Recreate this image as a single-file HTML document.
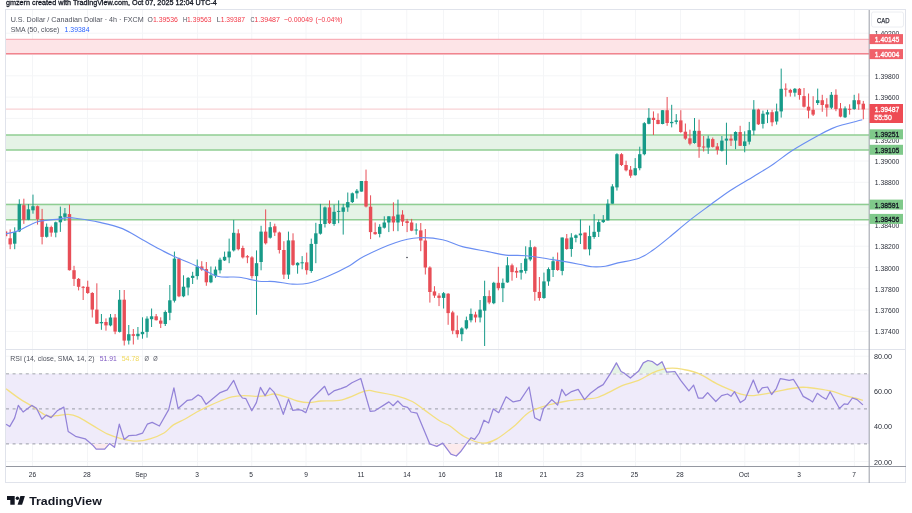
<!DOCTYPE html>
<html><head><meta charset="utf-8"><style>
html,body{margin:0;padding:0;background:#ffffff;width:912px;height:513px;overflow:hidden}
svg{display:block;font-family:"Liberation Sans", sans-serif;filter:blur(0.35px)}
</style></head><body>
<svg width="912" height="513" viewBox="0 0 912 513">
<defs><clipPath id="cp"><rect x="6" y="10" width="863" height="339"/></clipPath></defs>
<rect width="912" height="513" fill="#ffffff"/>
<rect x="5.5" y="9.5" width="900" height="473" fill="none" stroke="#e0e3eb" stroke-width="1"/><line x1="32.5" y1="10" x2="32.5" y2="466" stroke="#f4f5f7" stroke-width="1"/><line x1="87.5" y1="10" x2="87.5" y2="466" stroke="#f4f5f7" stroke-width="1"/><line x1="142.5" y1="10" x2="142.5" y2="466" stroke="#f4f5f7" stroke-width="1"/><line x1="197.5" y1="10" x2="197.5" y2="466" stroke="#f4f5f7" stroke-width="1"/><line x1="251.75" y1="10" x2="251.75" y2="466" stroke="#f4f5f7" stroke-width="1"/><line x1="306" y1="10" x2="306" y2="466" stroke="#f4f5f7" stroke-width="1"/><line x1="361" y1="10" x2="361" y2="466" stroke="#f4f5f7" stroke-width="1"/><line x1="406.75" y1="10" x2="406.75" y2="466" stroke="#f4f5f7" stroke-width="1"/><line x1="443.5" y1="10" x2="443.5" y2="466" stroke="#f4f5f7" stroke-width="1"/><line x1="498.5" y1="10" x2="498.5" y2="466" stroke="#f4f5f7" stroke-width="1"/><line x1="543.5" y1="10" x2="543.5" y2="466" stroke="#f4f5f7" stroke-width="1"/><line x1="581" y1="10" x2="581" y2="466" stroke="#f4f5f7" stroke-width="1"/><line x1="635.5" y1="10" x2="635.5" y2="466" stroke="#f4f5f7" stroke-width="1"/><line x1="680.5" y1="10" x2="680.5" y2="466" stroke="#f4f5f7" stroke-width="1"/><line x1="744.8" y1="10" x2="744.8" y2="466" stroke="#f4f5f7" stroke-width="1"/><line x1="799.3" y1="10" x2="799.3" y2="466" stroke="#f4f5f7" stroke-width="1"/><line x1="854.4" y1="10" x2="854.4" y2="466" stroke="#f4f5f7" stroke-width="1"/><line x1="6" y1="33.2" x2="869" y2="33.2" stroke="#f4f5f7" stroke-width="1"/><line x1="6" y1="54.5" x2="869" y2="54.5" stroke="#f4f5f7" stroke-width="1"/><line x1="6" y1="75.8" x2="869" y2="75.8" stroke="#f4f5f7" stroke-width="1"/><line x1="6" y1="97.1" x2="869" y2="97.1" stroke="#f4f5f7" stroke-width="1"/><line x1="6" y1="118.4" x2="869" y2="118.4" stroke="#f4f5f7" stroke-width="1"/><line x1="6" y1="139.7" x2="869" y2="139.7" stroke="#f4f5f7" stroke-width="1"/><line x1="6" y1="161.0" x2="869" y2="161.0" stroke="#f4f5f7" stroke-width="1"/><line x1="6" y1="182.3" x2="869" y2="182.3" stroke="#f4f5f7" stroke-width="1"/><line x1="6" y1="203.6" x2="869" y2="203.6" stroke="#f4f5f7" stroke-width="1"/><line x1="6" y1="224.9" x2="869" y2="224.9" stroke="#f4f5f7" stroke-width="1"/><line x1="6" y1="246.2" x2="869" y2="246.2" stroke="#f4f5f7" stroke-width="1"/><line x1="6" y1="267.5" x2="869" y2="267.5" stroke="#f4f5f7" stroke-width="1"/><line x1="6" y1="288.8" x2="869" y2="288.8" stroke="#f4f5f7" stroke-width="1"/><line x1="6" y1="310.1" x2="869" y2="310.1" stroke="#f4f5f7" stroke-width="1"/><line x1="6" y1="331.4" x2="869" y2="331.4" stroke="#f4f5f7" stroke-width="1"/><line x1="6" y1="356.2" x2="869" y2="356.2" stroke="#f4f5f7" stroke-width="1"/><line x1="6" y1="391.3" x2="869" y2="391.3" stroke="#f4f5f7" stroke-width="1"/><line x1="6" y1="426.4" x2="869" y2="426.4" stroke="#f4f5f7" stroke-width="1"/><line x1="6" y1="461.5" x2="869" y2="461.5" stroke="#f4f5f7" stroke-width="1"/><rect x="6" y="39.3" width="863" height="14.5" fill="#fde4e7"/><line x1="6" y1="39.3" x2="869" y2="39.3" stroke="#f7a1aa" stroke-width="1"/><line x1="6" y1="53.8" x2="869" y2="53.8" stroke="#f2848e" stroke-width="1.5"/><rect x="6" y="135.0" width="863" height="14.9" fill="#e5f3e6"/><line x1="6" y1="135.0" x2="869" y2="135.0" stroke="#8fce92" stroke-width="1.5"/><line x1="6" y1="149.9" x2="869" y2="149.9" stroke="#8fce92" stroke-width="1.5"/><rect x="6" y="204.6" width="863" height="15.1" fill="#e5f3e6"/><line x1="6" y1="204.6" x2="869" y2="204.6" stroke="#8fce92" stroke-width="1.5"/><line x1="6" y1="219.7" x2="869" y2="219.7" stroke="#8fce92" stroke-width="1.5"/><line x1="6" y1="109.1" x2="869" y2="109.1" stroke="#f7c6ca" stroke-width="1"/><g clip-path="url(#cp)"><line x1="5.60" y1="229.4" x2="5.60" y2="239.0" stroke="#e84e57" stroke-width="1"/><rect x="3.90" y="231.4" width="3.4" height="4.8" fill="#e84e57"/><line x1="10.16" y1="229.4" x2="10.16" y2="249.2" stroke="#e84e57" stroke-width="1"/><rect x="8.46" y="238.3" width="3.4" height="6.1" fill="#e84e57"/><line x1="14.72" y1="227.3" x2="14.72" y2="249.2" stroke="#179a88" stroke-width="1"/><rect x="13.02" y="232.1" width="3.4" height="11.6" fill="#179a88"/><line x1="19.29" y1="199.3" x2="19.29" y2="232.1" stroke="#179a88" stroke-width="1"/><rect x="17.59" y="204.1" width="3.4" height="27.3" fill="#179a88"/><line x1="23.85" y1="198.7" x2="23.85" y2="223.9" stroke="#e84e57" stroke-width="1"/><rect x="22.15" y="205.2" width="3.4" height="14.6" fill="#e84e57"/><line x1="28.41" y1="204.1" x2="28.41" y2="220.2" stroke="#179a88" stroke-width="1"/><rect x="26.71" y="209.3" width="3.4" height="10.5" fill="#179a88"/><line x1="32.97" y1="194.6" x2="32.97" y2="213.7" stroke="#179a88" stroke-width="1"/><rect x="31.27" y="206.2" width="3.4" height="4.1" fill="#179a88"/><line x1="37.54" y1="205.5" x2="37.54" y2="224.6" stroke="#e84e57" stroke-width="1"/><rect x="35.84" y="206.2" width="3.4" height="13.0" fill="#e84e57"/><line x1="42.10" y1="208.9" x2="42.10" y2="244.4" stroke="#e84e57" stroke-width="1"/><rect x="40.40" y="219.2" width="3.4" height="17.7" fill="#e84e57"/><line x1="46.66" y1="223.5" x2="46.66" y2="237.6" stroke="#179a88" stroke-width="1"/><rect x="44.96" y="226.8" width="3.4" height="10.0" fill="#179a88"/><line x1="51.22" y1="225.7" x2="51.22" y2="236.7" stroke="#e84e57" stroke-width="1"/><rect x="49.52" y="227.1" width="3.4" height="5.5" fill="#e84e57"/><line x1="55.79" y1="221.6" x2="55.79" y2="237.3" stroke="#179a88" stroke-width="1"/><rect x="54.09" y="222.3" width="3.4" height="10.3" fill="#179a88"/><line x1="60.35" y1="206.6" x2="60.35" y2="231.9" stroke="#179a88" stroke-width="1"/><rect x="58.65" y="216.2" width="3.4" height="6.1" fill="#179a88"/><line x1="64.91" y1="208.0" x2="64.91" y2="221.0" stroke="#179a88" stroke-width="1"/><rect x="63.21" y="213.4" width="3.4" height="3.5" fill="#179a88"/><line x1="69.47" y1="204.6" x2="69.47" y2="270.5" stroke="#e84e57" stroke-width="1"/><rect x="67.77" y="214.1" width="3.4" height="56.1" fill="#e84e57"/><line x1="74.03" y1="265.8" x2="74.03" y2="286.0" stroke="#e84e57" stroke-width="1"/><rect x="72.33" y="270.2" width="3.4" height="8.7" fill="#e84e57"/><line x1="78.60" y1="278.0" x2="78.60" y2="290.4" stroke="#e84e57" stroke-width="1"/><rect x="76.90" y="278.9" width="3.4" height="7.9" fill="#e84e57"/><line x1="83.16" y1="286.0" x2="83.16" y2="300.0" stroke="#e84e57" stroke-width="1"/><rect x="81.46" y="286.8" width="3.4" height="1.0" fill="#e84e57"/><line x1="87.72" y1="280.7" x2="87.72" y2="293.9" stroke="#e84e57" stroke-width="1"/><rect x="86.02" y="286.8" width="3.4" height="6.2" fill="#e84e57"/><line x1="92.28" y1="292.1" x2="92.28" y2="317.5" stroke="#e84e57" stroke-width="1"/><rect x="90.58" y="293.0" width="3.4" height="16.6" fill="#e84e57"/><line x1="96.85" y1="283.3" x2="96.85" y2="324.0" stroke="#e84e57" stroke-width="1"/><rect x="95.15" y="309.6" width="3.4" height="14.1" fill="#e84e57"/><line x1="101.41" y1="314.0" x2="101.41" y2="329.8" stroke="#179a88" stroke-width="1"/><rect x="99.71" y="322.0" width="3.4" height="1.3" fill="#179a88"/><line x1="105.97" y1="318.4" x2="105.97" y2="330.7" stroke="#e84e57" stroke-width="1"/><rect x="104.27" y="322.0" width="3.4" height="3.4" fill="#e84e57"/><line x1="110.53" y1="314.0" x2="110.53" y2="326.3" stroke="#179a88" stroke-width="1"/><rect x="108.83" y="317.5" width="3.4" height="7.9" fill="#179a88"/><line x1="115.10" y1="314.0" x2="115.10" y2="334.2" stroke="#e84e57" stroke-width="1"/><rect x="113.40" y="317.5" width="3.4" height="14.1" fill="#e84e57"/><line x1="119.66" y1="290.0" x2="119.66" y2="332.5" stroke="#179a88" stroke-width="1"/><rect x="117.96" y="299.7" width="3.4" height="32.2" fill="#179a88"/><line x1="124.22" y1="290.0" x2="124.22" y2="345.5" stroke="#e84e57" stroke-width="1"/><rect x="122.52" y="299.7" width="3.4" height="40.9" fill="#e84e57"/><line x1="128.78" y1="325.0" x2="128.78" y2="344.5" stroke="#179a88" stroke-width="1"/><rect x="127.08" y="334.2" width="3.4" height="6.4" fill="#179a88"/><line x1="133.34" y1="329.0" x2="133.34" y2="344.5" stroke="#e84e57" stroke-width="1"/><rect x="131.64" y="334.2" width="3.4" height="1.6" fill="#e84e57"/><line x1="137.91" y1="327.0" x2="137.91" y2="339.7" stroke="#179a88" stroke-width="1"/><rect x="136.21" y="333.8" width="3.4" height="2.4" fill="#179a88"/><line x1="142.47" y1="317.3" x2="142.47" y2="338.7" stroke="#179a88" stroke-width="1"/><rect x="140.77" y="331.9" width="3.4" height="2.3" fill="#179a88"/><line x1="147.03" y1="316.3" x2="147.03" y2="337.7" stroke="#179a88" stroke-width="1"/><rect x="145.33" y="318.6" width="3.4" height="13.3" fill="#179a88"/><line x1="151.59" y1="308.5" x2="151.59" y2="327.0" stroke="#179a88" stroke-width="1"/><rect x="149.89" y="316.3" width="3.4" height="2.9" fill="#179a88"/><line x1="156.16" y1="314.0" x2="156.16" y2="320.5" stroke="#e84e57" stroke-width="1"/><rect x="154.46" y="316.3" width="3.4" height="3.9" fill="#e84e57"/><line x1="160.72" y1="317.3" x2="160.72" y2="328.0" stroke="#e84e57" stroke-width="1"/><rect x="159.02" y="320.6" width="3.4" height="3.1" fill="#e84e57"/><line x1="165.28" y1="310.4" x2="165.28" y2="326.0" stroke="#179a88" stroke-width="1"/><rect x="163.58" y="312.0" width="3.4" height="12.0" fill="#179a88"/><line x1="169.84" y1="285.0" x2="169.84" y2="320.2" stroke="#179a88" stroke-width="1"/><rect x="168.14" y="300.3" width="3.4" height="12.5" fill="#179a88"/><line x1="174.41" y1="251.6" x2="174.41" y2="302.5" stroke="#179a88" stroke-width="1"/><rect x="172.71" y="258.6" width="3.4" height="42.1" fill="#179a88"/><line x1="178.97" y1="257.7" x2="178.97" y2="297.2" stroke="#e84e57" stroke-width="1"/><rect x="177.27" y="258.6" width="3.4" height="37.7" fill="#e84e57"/><line x1="183.53" y1="275.3" x2="183.53" y2="297.2" stroke="#179a88" stroke-width="1"/><rect x="181.83" y="286.7" width="3.4" height="9.6" fill="#179a88"/><line x1="188.09" y1="277.0" x2="188.09" y2="295.4" stroke="#179a88" stroke-width="1"/><rect x="186.39" y="277.9" width="3.4" height="9.6" fill="#179a88"/><line x1="192.65" y1="271.8" x2="192.65" y2="284.0" stroke="#179a88" stroke-width="1"/><rect x="190.95" y="275.8" width="3.4" height="2.1" fill="#179a88"/><line x1="197.22" y1="259.5" x2="197.22" y2="279.6" stroke="#179a88" stroke-width="1"/><rect x="195.52" y="266.5" width="3.4" height="9.6" fill="#179a88"/><line x1="201.78" y1="261.2" x2="201.78" y2="270.9" stroke="#e84e57" stroke-width="1"/><rect x="200.08" y="266.5" width="3.4" height="3.0" fill="#e84e57"/><line x1="206.34" y1="262.0" x2="206.34" y2="285.8" stroke="#e84e57" stroke-width="1"/><rect x="204.64" y="269.1" width="3.4" height="13.2" fill="#e84e57"/><line x1="210.90" y1="266.5" x2="210.90" y2="283.2" stroke="#179a88" stroke-width="1"/><rect x="209.20" y="275.3" width="3.4" height="7.0" fill="#179a88"/><line x1="215.47" y1="266.5" x2="215.47" y2="277.9" stroke="#179a88" stroke-width="1"/><rect x="213.77" y="269.6" width="3.4" height="6.5" fill="#179a88"/><line x1="220.03" y1="257.7" x2="220.03" y2="273.5" stroke="#179a88" stroke-width="1"/><rect x="218.33" y="259.7" width="3.4" height="10.6" fill="#179a88"/><line x1="224.59" y1="251.6" x2="224.59" y2="261.0" stroke="#179a88" stroke-width="1"/><rect x="222.89" y="256.8" width="3.4" height="3.6" fill="#179a88"/><line x1="229.15" y1="238.6" x2="229.15" y2="263.2" stroke="#179a88" stroke-width="1"/><rect x="227.45" y="251.5" width="3.4" height="5.9" fill="#179a88"/><line x1="233.71" y1="219.9" x2="233.71" y2="251.5" stroke="#179a88" stroke-width="1"/><rect x="232.01" y="232.8" width="3.4" height="17.6" fill="#179a88"/><line x1="238.28" y1="229.3" x2="238.28" y2="250.4" stroke="#e84e57" stroke-width="1"/><rect x="236.58" y="233.3" width="3.4" height="15.9" fill="#e84e57"/><line x1="242.84" y1="245.7" x2="242.84" y2="258.5" stroke="#e84e57" stroke-width="1"/><rect x="241.14" y="248.0" width="3.4" height="9.4" fill="#e84e57"/><line x1="247.40" y1="255.0" x2="247.40" y2="263.2" stroke="#e84e57" stroke-width="1"/><rect x="245.70" y="256.2" width="3.4" height="1.2" fill="#e84e57"/><line x1="251.96" y1="256.2" x2="251.96" y2="278.5" stroke="#e84e57" stroke-width="1"/><rect x="250.26" y="257.4" width="3.4" height="18.7" fill="#e84e57"/><line x1="256.53" y1="250.4" x2="256.53" y2="314.8" stroke="#179a88" stroke-width="1"/><rect x="254.83" y="263.2" width="3.4" height="12.9" fill="#179a88"/><line x1="261.09" y1="225.8" x2="261.09" y2="270.3" stroke="#179a88" stroke-width="1"/><rect x="259.39" y="231.6" width="3.4" height="30.4" fill="#179a88"/><line x1="265.65" y1="209.4" x2="265.65" y2="244.5" stroke="#e84e57" stroke-width="1"/><rect x="263.95" y="231.6" width="3.4" height="11.7" fill="#e84e57"/><line x1="270.21" y1="221.9" x2="270.21" y2="238.6" stroke="#179a88" stroke-width="1"/><rect x="268.51" y="227.2" width="3.4" height="10.5" fill="#179a88"/><line x1="274.78" y1="223.7" x2="274.78" y2="236.0" stroke="#e84e57" stroke-width="1"/><rect x="273.08" y="226.3" width="3.4" height="6.2" fill="#e84e57"/><line x1="279.34" y1="231.6" x2="279.34" y2="253.5" stroke="#e84e57" stroke-width="1"/><rect x="277.64" y="232.5" width="3.4" height="17.5" fill="#e84e57"/><line x1="283.90" y1="241.2" x2="283.90" y2="279.0" stroke="#e84e57" stroke-width="1"/><rect x="282.20" y="250.0" width="3.4" height="24.6" fill="#e84e57"/><line x1="288.46" y1="231.6" x2="288.46" y2="279.0" stroke="#179a88" stroke-width="1"/><rect x="286.76" y="240.4" width="3.4" height="34.2" fill="#179a88"/><line x1="293.02" y1="233.3" x2="293.02" y2="265.8" stroke="#e84e57" stroke-width="1"/><rect x="291.32" y="240.4" width="3.4" height="24.5" fill="#e84e57"/><line x1="297.59" y1="262.3" x2="297.59" y2="273.7" stroke="#179a88" stroke-width="1"/><rect x="295.89" y="262.8" width="3.4" height="2.5" fill="#179a88"/><line x1="302.15" y1="256.1" x2="302.15" y2="269.3" stroke="#179a88" stroke-width="1"/><rect x="300.45" y="262.3" width="3.4" height="1.0" fill="#179a88"/><line x1="306.71" y1="252.6" x2="306.71" y2="274.6" stroke="#e84e57" stroke-width="1"/><rect x="305.01" y="262.3" width="3.4" height="7.9" fill="#e84e57"/><line x1="311.27" y1="238.6" x2="311.27" y2="272.8" stroke="#179a88" stroke-width="1"/><rect x="309.57" y="243.9" width="3.4" height="27.1" fill="#179a88"/><line x1="315.84" y1="222.8" x2="315.84" y2="263.2" stroke="#179a88" stroke-width="1"/><rect x="314.14" y="233.3" width="3.4" height="10.6" fill="#179a88"/><line x1="320.40" y1="203.9" x2="320.40" y2="234.6" stroke="#179a88" stroke-width="1"/><rect x="318.70" y="224.0" width="3.4" height="9.7" fill="#179a88"/><line x1="324.96" y1="206.5" x2="324.96" y2="227.5" stroke="#179a88" stroke-width="1"/><rect x="323.26" y="207.4" width="3.4" height="16.6" fill="#179a88"/><line x1="329.52" y1="200.4" x2="329.52" y2="224.0" stroke="#e84e57" stroke-width="1"/><rect x="327.82" y="207.4" width="3.4" height="15.8" fill="#e84e57"/><line x1="334.09" y1="204.7" x2="334.09" y2="225.8" stroke="#179a88" stroke-width="1"/><rect x="332.39" y="211.8" width="3.4" height="12.2" fill="#179a88"/><line x1="338.65" y1="200.4" x2="338.65" y2="223.2" stroke="#179a88" stroke-width="1"/><rect x="336.95" y="210.9" width="3.4" height="1.0" fill="#179a88"/><line x1="343.21" y1="203.9" x2="343.21" y2="234.6" stroke="#179a88" stroke-width="1"/><rect x="341.51" y="207.4" width="3.4" height="4.4" fill="#179a88"/><line x1="347.77" y1="192.5" x2="347.77" y2="211.8" stroke="#179a88" stroke-width="1"/><rect x="346.07" y="202.1" width="3.4" height="5.3" fill="#179a88"/><line x1="352.33" y1="192.5" x2="352.33" y2="203.0" stroke="#179a88" stroke-width="1"/><rect x="350.63" y="193.3" width="3.4" height="8.8" fill="#179a88"/><line x1="356.90" y1="189.0" x2="356.90" y2="198.6" stroke="#179a88" stroke-width="1"/><rect x="355.20" y="190.7" width="3.4" height="2.6" fill="#179a88"/><line x1="361.46" y1="181.0" x2="361.46" y2="191.6" stroke="#179a88" stroke-width="1"/><rect x="359.76" y="181.0" width="3.4" height="10.6" fill="#179a88"/><line x1="366.02" y1="169.6" x2="366.02" y2="207.4" stroke="#e84e57" stroke-width="1"/><rect x="364.32" y="181.0" width="3.4" height="25.5" fill="#e84e57"/><line x1="370.58" y1="195.3" x2="370.58" y2="239.1" stroke="#e84e57" stroke-width="1"/><rect x="368.88" y="206.7" width="3.4" height="25.4" fill="#e84e57"/><line x1="375.15" y1="222.5" x2="375.15" y2="234.7" stroke="#e84e57" stroke-width="1"/><rect x="373.45" y="232.1" width="3.4" height="2.1" fill="#e84e57"/><line x1="379.71" y1="224.2" x2="379.71" y2="237.4" stroke="#179a88" stroke-width="1"/><rect x="378.01" y="226.8" width="3.4" height="7.1" fill="#179a88"/><line x1="384.27" y1="216.3" x2="384.27" y2="228.6" stroke="#179a88" stroke-width="1"/><rect x="382.57" y="222.5" width="3.4" height="5.2" fill="#179a88"/><line x1="388.83" y1="216.3" x2="388.83" y2="232.1" stroke="#179a88" stroke-width="1"/><rect x="387.13" y="216.3" width="3.4" height="6.2" fill="#179a88"/><line x1="393.40" y1="202.3" x2="393.40" y2="231.2" stroke="#e84e57" stroke-width="1"/><rect x="391.70" y="216.3" width="3.4" height="6.2" fill="#e84e57"/><line x1="397.96" y1="199.6" x2="397.96" y2="231.2" stroke="#179a88" stroke-width="1"/><rect x="396.26" y="214.6" width="3.4" height="7.9" fill="#179a88"/><line x1="402.52" y1="210.2" x2="402.52" y2="226.0" stroke="#e84e57" stroke-width="1"/><rect x="400.82" y="214.6" width="3.4" height="7.0" fill="#e84e57"/><line x1="407.08" y1="218.9" x2="407.08" y2="232.1" stroke="#e84e57" stroke-width="1"/><rect x="405.38" y="221.2" width="3.4" height="1.8" fill="#e84e57"/><line x1="411.64" y1="218.9" x2="411.64" y2="231.2" stroke="#e84e57" stroke-width="1"/><rect x="409.94" y="222.5" width="3.4" height="8.2" fill="#e84e57"/><line x1="416.21" y1="223.3" x2="416.21" y2="234.7" stroke="#179a88" stroke-width="1"/><rect x="414.51" y="229.5" width="3.4" height="1.0" fill="#179a88"/><line x1="420.77" y1="223.0" x2="420.77" y2="251.2" stroke="#e84e57" stroke-width="1"/><rect x="419.07" y="230.4" width="3.4" height="10.1" fill="#e84e57"/><line x1="425.33" y1="229.0" x2="425.33" y2="274.5" stroke="#e84e57" stroke-width="1"/><rect x="423.63" y="240.5" width="3.4" height="27.0" fill="#e84e57"/><line x1="429.89" y1="266.3" x2="429.89" y2="302.6" stroke="#e84e57" stroke-width="1"/><rect x="428.19" y="267.5" width="3.4" height="24.5" fill="#e84e57"/><line x1="434.46" y1="286.2" x2="434.46" y2="297.9" stroke="#e84e57" stroke-width="1"/><rect x="432.76" y="291.4" width="3.4" height="4.2" fill="#e84e57"/><line x1="439.02" y1="293.2" x2="439.02" y2="306.1" stroke="#e84e57" stroke-width="1"/><rect x="437.32" y="295.6" width="3.4" height="2.3" fill="#e84e57"/><line x1="443.58" y1="292.0" x2="443.58" y2="308.5" stroke="#179a88" stroke-width="1"/><rect x="441.88" y="293.2" width="3.4" height="4.7" fill="#179a88"/><line x1="448.14" y1="293.2" x2="448.14" y2="324.8" stroke="#e84e57" stroke-width="1"/><rect x="446.44" y="293.7" width="3.4" height="19.4" fill="#e84e57"/><line x1="452.71" y1="310.8" x2="452.71" y2="334.2" stroke="#e84e57" stroke-width="1"/><rect x="451.01" y="312.4" width="3.4" height="18.3" fill="#e84e57"/><line x1="457.27" y1="315.5" x2="457.27" y2="337.7" stroke="#e84e57" stroke-width="1"/><rect x="455.57" y="330.2" width="3.4" height="4.0" fill="#e84e57"/><line x1="461.83" y1="327.2" x2="461.83" y2="341.2" stroke="#179a88" stroke-width="1"/><rect x="460.13" y="328.4" width="3.4" height="5.8" fill="#179a88"/><line x1="466.39" y1="316.6" x2="466.39" y2="329.5" stroke="#179a88" stroke-width="1"/><rect x="464.69" y="320.2" width="3.4" height="8.2" fill="#179a88"/><line x1="470.95" y1="308.5" x2="470.95" y2="322.4" stroke="#179a88" stroke-width="1"/><rect x="469.25" y="313.9" width="3.4" height="6.4" fill="#179a88"/><line x1="475.52" y1="311.7" x2="475.52" y2="322.4" stroke="#e84e57" stroke-width="1"/><rect x="473.82" y="314.5" width="3.4" height="3.0" fill="#e84e57"/><line x1="480.08" y1="300.0" x2="480.08" y2="322.4" stroke="#179a88" stroke-width="1"/><rect x="478.38" y="309.6" width="3.4" height="7.9" fill="#179a88"/><line x1="484.64" y1="280.7" x2="484.64" y2="346.0" stroke="#179a88" stroke-width="1"/><rect x="482.94" y="296.1" width="3.4" height="14.6" fill="#179a88"/><line x1="489.20" y1="290.3" x2="489.20" y2="304.2" stroke="#e84e57" stroke-width="1"/><rect x="487.50" y="296.1" width="3.4" height="6.4" fill="#e84e57"/><line x1="493.77" y1="281.8" x2="493.77" y2="304.2" stroke="#179a88" stroke-width="1"/><rect x="492.07" y="282.8" width="3.4" height="20.4" fill="#179a88"/><line x1="498.33" y1="266.8" x2="498.33" y2="290.3" stroke="#e84e57" stroke-width="1"/><rect x="496.63" y="282.8" width="3.4" height="5.4" fill="#e84e57"/><line x1="502.89" y1="278.5" x2="502.89" y2="302.1" stroke="#179a88" stroke-width="1"/><rect x="501.19" y="282.8" width="3.4" height="5.4" fill="#179a88"/><line x1="507.45" y1="257.1" x2="507.45" y2="282.8" stroke="#179a88" stroke-width="1"/><rect x="505.75" y="265.3" width="3.4" height="17.1" fill="#179a88"/><line x1="512.02" y1="263.6" x2="512.02" y2="280.7" stroke="#e84e57" stroke-width="1"/><rect x="510.32" y="265.3" width="3.4" height="6.8" fill="#e84e57"/><line x1="516.58" y1="267.4" x2="516.58" y2="277.9" stroke="#e84e57" stroke-width="1"/><rect x="514.88" y="270.9" width="3.4" height="1.7" fill="#e84e57"/><line x1="521.14" y1="263.0" x2="521.14" y2="279.6" stroke="#179a88" stroke-width="1"/><rect x="519.44" y="270.0" width="3.4" height="2.6" fill="#179a88"/><line x1="525.70" y1="246.3" x2="525.70" y2="273.5" stroke="#179a88" stroke-width="1"/><rect x="524.00" y="258.6" width="3.4" height="12.3" fill="#179a88"/><line x1="530.26" y1="240.2" x2="530.26" y2="261.2" stroke="#179a88" stroke-width="1"/><rect x="528.56" y="247.2" width="3.4" height="12.3" fill="#179a88"/><line x1="534.83" y1="246.3" x2="534.83" y2="300.7" stroke="#e84e57" stroke-width="1"/><rect x="533.13" y="247.2" width="3.4" height="44.7" fill="#e84e57"/><line x1="539.39" y1="277.0" x2="539.39" y2="300.7" stroke="#e84e57" stroke-width="1"/><rect x="537.69" y="291.9" width="3.4" height="6.1" fill="#e84e57"/><line x1="543.95" y1="272.6" x2="543.95" y2="298.9" stroke="#179a88" stroke-width="1"/><rect x="542.25" y="281.4" width="3.4" height="16.6" fill="#179a88"/><line x1="548.51" y1="267.4" x2="548.51" y2="285.8" stroke="#179a88" stroke-width="1"/><rect x="546.81" y="269.1" width="3.4" height="12.3" fill="#179a88"/><line x1="553.08" y1="256.8" x2="553.08" y2="277.0" stroke="#179a88" stroke-width="1"/><rect x="551.38" y="261.2" width="3.4" height="8.8" fill="#179a88"/><line x1="557.64" y1="252.5" x2="557.64" y2="270.9" stroke="#e84e57" stroke-width="1"/><rect x="555.94" y="261.2" width="3.4" height="8.8" fill="#e84e57"/><line x1="562.20" y1="237.5" x2="562.20" y2="275.3" stroke="#179a88" stroke-width="1"/><rect x="560.50" y="237.5" width="3.4" height="33.4" fill="#179a88"/><line x1="566.76" y1="234.0" x2="566.76" y2="249.8" stroke="#e84e57" stroke-width="1"/><rect x="565.06" y="238.4" width="3.4" height="10.6" fill="#e84e57"/><line x1="571.33" y1="233.2" x2="571.33" y2="256.8" stroke="#179a88" stroke-width="1"/><rect x="569.63" y="237.5" width="3.4" height="11.5" fill="#179a88"/><line x1="575.89" y1="234.4" x2="575.89" y2="242.3" stroke="#179a88" stroke-width="1"/><rect x="574.19" y="235.3" width="3.4" height="2.6" fill="#179a88"/><line x1="580.45" y1="219.5" x2="580.45" y2="244.0" stroke="#179a88" stroke-width="1"/><rect x="578.75" y="233.5" width="3.4" height="1.8" fill="#179a88"/><line x1="585.01" y1="232.6" x2="585.01" y2="249.3" stroke="#e84e57" stroke-width="1"/><rect x="583.31" y="232.6" width="3.4" height="16.7" fill="#e84e57"/><line x1="589.57" y1="225.6" x2="589.57" y2="255.4" stroke="#179a88" stroke-width="1"/><rect x="587.87" y="236.1" width="3.4" height="13.2" fill="#179a88"/><line x1="594.14" y1="214.2" x2="594.14" y2="238.8" stroke="#179a88" stroke-width="1"/><rect x="592.44" y="231.8" width="3.4" height="5.2" fill="#179a88"/><line x1="598.70" y1="219.5" x2="598.70" y2="237.0" stroke="#179a88" stroke-width="1"/><rect x="597.00" y="222.1" width="3.4" height="9.7" fill="#179a88"/><line x1="603.26" y1="215.1" x2="603.26" y2="223.0" stroke="#179a88" stroke-width="1"/><rect x="601.56" y="220.0" width="3.4" height="2.1" fill="#179a88"/><line x1="607.82" y1="199.3" x2="607.82" y2="220.4" stroke="#179a88" stroke-width="1"/><rect x="606.12" y="203.7" width="3.4" height="16.7" fill="#179a88"/><line x1="612.39" y1="184.2" x2="612.39" y2="203.7" stroke="#179a88" stroke-width="1"/><rect x="610.69" y="186.4" width="3.4" height="17.3" fill="#179a88"/><line x1="616.95" y1="153.2" x2="616.95" y2="190.6" stroke="#179a88" stroke-width="1"/><rect x="615.25" y="154.2" width="3.4" height="33.2" fill="#179a88"/><line x1="621.51" y1="153.2" x2="621.51" y2="166.0" stroke="#e84e57" stroke-width="1"/><rect x="619.81" y="154.2" width="3.4" height="10.8" fill="#e84e57"/><line x1="626.07" y1="160.7" x2="626.07" y2="171.4" stroke="#e84e57" stroke-width="1"/><rect x="624.37" y="165.0" width="3.4" height="5.3" fill="#e84e57"/><line x1="630.64" y1="166.0" x2="630.64" y2="177.8" stroke="#e84e57" stroke-width="1"/><rect x="628.94" y="169.7" width="3.4" height="6.0" fill="#e84e57"/><line x1="635.20" y1="158.1" x2="635.20" y2="175.7" stroke="#179a88" stroke-width="1"/><rect x="633.50" y="168.2" width="3.4" height="7.0" fill="#179a88"/><line x1="639.76" y1="146.7" x2="639.76" y2="170.3" stroke="#179a88" stroke-width="1"/><rect x="638.06" y="154.2" width="3.4" height="14.0" fill="#179a88"/><line x1="644.32" y1="122.1" x2="644.32" y2="155.3" stroke="#179a88" stroke-width="1"/><rect x="642.62" y="123.2" width="3.4" height="31.0" fill="#179a88"/><line x1="648.88" y1="108.2" x2="648.88" y2="124.3" stroke="#179a88" stroke-width="1"/><rect x="647.18" y="117.8" width="3.4" height="6.0" fill="#179a88"/><line x1="653.45" y1="111.4" x2="653.45" y2="135.0" stroke="#e84e57" stroke-width="1"/><rect x="651.75" y="117.8" width="3.4" height="2.2" fill="#e84e57"/><line x1="658.01" y1="113.4" x2="658.01" y2="124.3" stroke="#e84e57" stroke-width="1"/><rect x="656.31" y="119.9" width="3.4" height="4.1" fill="#e84e57"/><line x1="662.57" y1="110.2" x2="662.57" y2="124.3" stroke="#179a88" stroke-width="1"/><rect x="660.87" y="110.2" width="3.4" height="13.8" fill="#179a88"/><line x1="667.13" y1="97.0" x2="667.13" y2="125.8" stroke="#e84e57" stroke-width="1"/><rect x="665.43" y="110.2" width="3.4" height="12.8" fill="#e84e57"/><line x1="671.70" y1="104.8" x2="671.70" y2="127.4" stroke="#179a88" stroke-width="1"/><rect x="670.00" y="121.9" width="3.4" height="1.3" fill="#179a88"/><line x1="676.26" y1="114.1" x2="676.26" y2="124.3" stroke="#179a88" stroke-width="1"/><rect x="674.56" y="120.4" width="3.4" height="1.5" fill="#179a88"/><line x1="680.82" y1="110.2" x2="680.82" y2="132.8" stroke="#e84e57" stroke-width="1"/><rect x="679.12" y="120.4" width="3.4" height="11.6" fill="#e84e57"/><line x1="685.38" y1="123.5" x2="685.38" y2="139.8" stroke="#e84e57" stroke-width="1"/><rect x="683.68" y="131.7" width="3.4" height="6.9" fill="#e84e57"/><line x1="689.94" y1="129.7" x2="689.94" y2="145.3" stroke="#e84e57" stroke-width="1"/><rect x="688.24" y="138.3" width="3.4" height="5.4" fill="#e84e57"/><line x1="694.51" y1="118.0" x2="694.51" y2="143.7" stroke="#179a88" stroke-width="1"/><rect x="692.81" y="130.8" width="3.4" height="12.2" fill="#179a88"/><line x1="699.07" y1="119.6" x2="699.07" y2="157.8" stroke="#e84e57" stroke-width="1"/><rect x="697.37" y="130.8" width="3.4" height="16.1" fill="#e84e57"/><line x1="703.63" y1="136.0" x2="703.63" y2="151.5" stroke="#e84e57" stroke-width="1"/><rect x="701.93" y="146.5" width="3.4" height="1.0" fill="#e84e57"/><line x1="708.19" y1="135.6" x2="708.19" y2="153.9" stroke="#179a88" stroke-width="1"/><rect x="706.49" y="138.6" width="3.4" height="9.0" fill="#179a88"/><line x1="712.76" y1="137.5" x2="712.76" y2="147.6" stroke="#e84e57" stroke-width="1"/><rect x="711.06" y="139.1" width="3.4" height="7.8" fill="#e84e57"/><line x1="717.32" y1="143.0" x2="717.32" y2="154.6" stroke="#e84e57" stroke-width="1"/><rect x="715.62" y="146.4" width="3.4" height="3.6" fill="#e84e57"/><line x1="721.88" y1="136.0" x2="721.88" y2="151.5" stroke="#179a88" stroke-width="1"/><rect x="720.18" y="140.6" width="3.4" height="10.1" fill="#179a88"/><line x1="726.44" y1="122.7" x2="726.44" y2="164.8" stroke="#179a88" stroke-width="1"/><rect x="724.74" y="138.6" width="3.4" height="2.0" fill="#179a88"/><line x1="731.01" y1="134.4" x2="731.01" y2="146.0" stroke="#e84e57" stroke-width="1"/><rect x="729.31" y="138.6" width="3.4" height="2.0" fill="#e84e57"/><line x1="735.57" y1="131.3" x2="735.57" y2="149.2" stroke="#179a88" stroke-width="1"/><rect x="733.87" y="132.0" width="3.4" height="8.6" fill="#179a88"/><line x1="740.13" y1="125.8" x2="740.13" y2="146.0" stroke="#e84e57" stroke-width="1"/><rect x="738.43" y="132.0" width="3.4" height="13.8" fill="#e84e57"/><line x1="744.69" y1="131.3" x2="744.69" y2="152.3" stroke="#179a88" stroke-width="1"/><rect x="742.99" y="141.4" width="3.4" height="4.6" fill="#179a88"/><line x1="749.25" y1="121.9" x2="749.25" y2="144.5" stroke="#179a88" stroke-width="1"/><rect x="747.55" y="130.2" width="3.4" height="11.5" fill="#179a88"/><line x1="753.82" y1="100.1" x2="753.82" y2="135.2" stroke="#179a88" stroke-width="1"/><rect x="752.12" y="109.5" width="3.4" height="21.0" fill="#179a88"/><line x1="758.38" y1="108.7" x2="758.38" y2="125.0" stroke="#e84e57" stroke-width="1"/><rect x="756.68" y="109.5" width="3.4" height="14.8" fill="#e84e57"/><line x1="762.94" y1="110.6" x2="762.94" y2="128.5" stroke="#179a88" stroke-width="1"/><rect x="761.24" y="113.7" width="3.4" height="10.2" fill="#179a88"/><line x1="767.50" y1="109.8" x2="767.50" y2="123.1" stroke="#179a88" stroke-width="1"/><rect x="765.80" y="112.2" width="3.4" height="2.3" fill="#179a88"/><line x1="772.07" y1="109.8" x2="772.07" y2="126.2" stroke="#e84e57" stroke-width="1"/><rect x="770.37" y="112.2" width="3.4" height="10.1" fill="#e84e57"/><line x1="776.63" y1="103.6" x2="776.63" y2="124.6" stroke="#179a88" stroke-width="1"/><rect x="774.93" y="111.4" width="3.4" height="10.1" fill="#179a88"/><line x1="781.19" y1="68.6" x2="781.19" y2="117.6" stroke="#179a88" stroke-width="1"/><rect x="779.49" y="88.8" width="3.4" height="22.6" fill="#179a88"/><line x1="785.75" y1="83.4" x2="785.75" y2="96.6" stroke="#e84e57" stroke-width="1"/><rect x="784.05" y="88.6" width="3.4" height="1.0" fill="#e84e57"/><line x1="790.32" y1="88.8" x2="790.32" y2="96.6" stroke="#e84e57" stroke-width="1"/><rect x="788.62" y="89.9" width="3.4" height="2.8" fill="#e84e57"/><line x1="794.88" y1="88.0" x2="794.88" y2="96.6" stroke="#179a88" stroke-width="1"/><rect x="793.18" y="88.8" width="3.4" height="3.9" fill="#179a88"/><line x1="799.44" y1="88.0" x2="799.44" y2="99.7" stroke="#e84e57" stroke-width="1"/><rect x="797.74" y="88.8" width="3.4" height="6.2" fill="#e84e57"/><line x1="804.00" y1="88.0" x2="804.00" y2="107.5" stroke="#e84e57" stroke-width="1"/><rect x="802.30" y="96.1" width="3.4" height="10.6" fill="#e84e57"/><line x1="808.56" y1="93.5" x2="808.56" y2="118.4" stroke="#e84e57" stroke-width="1"/><rect x="806.86" y="106.7" width="3.4" height="3.9" fill="#e84e57"/><line x1="813.13" y1="96.2" x2="813.13" y2="116.0" stroke="#e84e57" stroke-width="1"/><rect x="811.43" y="109.8" width="3.4" height="4.8" fill="#e84e57"/><line x1="817.69" y1="88.6" x2="817.69" y2="105.0" stroke="#179a88" stroke-width="1"/><rect x="815.99" y="100.2" width="3.4" height="2.8" fill="#179a88"/><line x1="822.25" y1="94.8" x2="822.25" y2="111.8" stroke="#e84e57" stroke-width="1"/><rect x="820.55" y="100.2" width="3.4" height="4.8" fill="#e84e57"/><line x1="826.81" y1="98.2" x2="826.81" y2="116.6" stroke="#e84e57" stroke-width="1"/><rect x="825.11" y="104.3" width="3.4" height="3.4" fill="#e84e57"/><line x1="831.38" y1="92.0" x2="831.38" y2="109.1" stroke="#179a88" stroke-width="1"/><rect x="829.68" y="94.8" width="3.4" height="12.9" fill="#179a88"/><line x1="835.94" y1="89.3" x2="835.94" y2="111.2" stroke="#e84e57" stroke-width="1"/><rect x="834.24" y="94.8" width="3.4" height="14.3" fill="#e84e57"/><line x1="840.50" y1="103.0" x2="840.50" y2="117.3" stroke="#e84e57" stroke-width="1"/><rect x="838.80" y="108.4" width="3.4" height="8.2" fill="#e84e57"/><line x1="845.06" y1="106.4" x2="845.06" y2="118.0" stroke="#179a88" stroke-width="1"/><rect x="843.36" y="108.4" width="3.4" height="8.9" fill="#179a88"/><line x1="849.63" y1="104.3" x2="849.63" y2="114.6" stroke="#e84e57" stroke-width="1"/><rect x="847.93" y="108.8" width="3.4" height="1.0" fill="#e84e57"/><line x1="854.19" y1="94.8" x2="854.19" y2="109.8" stroke="#179a88" stroke-width="1"/><rect x="852.49" y="100.2" width="3.4" height="8.9" fill="#179a88"/><line x1="858.75" y1="93.4" x2="858.75" y2="109.8" stroke="#e84e57" stroke-width="1"/><rect x="857.05" y="100.2" width="3.4" height="4.1" fill="#e84e57"/><line x1="863.31" y1="100.9" x2="863.31" y2="119.3" stroke="#e84e57" stroke-width="1"/><rect x="861.61" y="103.7" width="3.4" height="5.7" fill="#e84e57"/></g><path d="M6.0,233.8 C8.1,233.3 13.4,232.6 18.7,230.6 C23.9,228.6 30.8,223.6 37.5,221.7 C44.2,219.8 54.3,219.8 59.2,219.1 C64.1,218.4 63.8,217.7 67.1,217.6 C70.4,217.5 73.6,217.9 78.9,218.7 C84.2,219.4 91.5,220.4 98.7,222.1 C106.0,223.8 115.2,225.7 122.4,228.6 C129.6,231.5 135.5,235.9 142.1,239.5 C148.7,243.1 156.5,247.5 161.8,250.3 C167.1,253.1 167.7,253.5 173.7,256.2 C179.7,258.9 190.3,263.1 197.6,266.4 C204.9,269.7 210.5,274.4 217.4,276.2 C224.3,278.0 232.2,276.4 239.1,277.2 C246.0,278.0 252.9,280.5 258.8,281.2 C264.7,281.9 269.0,281.1 274.6,281.6 C280.2,282.1 286.8,283.8 292.4,284.1 C298.0,284.4 302.2,284.5 308.1,283.2 C314.0,281.9 320.9,279.2 327.9,276.2 C334.9,273.2 344.0,268.7 350.0,265.4 C356.0,262.1 356.1,260.3 363.7,256.5 C371.2,252.7 386.1,245.8 395.3,242.7 C404.5,239.6 411.0,238.3 418.9,237.8 C426.8,237.3 435.4,238.2 442.6,239.7 C449.9,241.2 454.8,244.6 462.4,246.6 C470.0,248.6 480.8,250.2 488.0,251.6 C495.2,253.0 499.4,254.4 505.8,255.1 C512.2,255.8 518.5,254.9 526.3,255.7 C534.1,256.4 543.8,258.2 552.6,259.6 C561.4,261.0 572.4,263.0 579.0,264.2 C585.6,265.4 587.7,266.5 592.1,266.8 C596.5,267.1 601.0,266.9 605.3,266.2 C609.6,265.5 612.4,264.2 618.0,262.9 C623.6,261.6 633.2,260.3 639.1,258.2 C645.0,256.1 648.0,253.5 653.1,250.0 C658.2,246.5 663.3,242.2 669.5,237.1 C675.7,232.0 683.5,225.1 690.5,219.6 C697.5,214.1 704.9,208.9 711.5,204.0 C718.1,199.1 723.3,195.0 730.3,190.4 C737.3,185.8 746.4,180.8 753.6,176.4 C760.8,172.0 767.1,168.3 773.6,163.9 C780.1,159.5 785.2,155.0 792.7,150.2 C800.2,145.4 812.1,138.8 818.7,135.2 C825.3,131.6 828.4,130.1 832.3,128.4 C836.2,126.7 836.9,126.4 841.9,125.0 C846.9,123.6 858.9,120.7 862.3,119.8" fill="none" stroke="#6a8ef2" stroke-width="1.15"/><circle cx="407" cy="257.5" r="0.7" fill="#131722"/><line x1="6" y1="349.5" x2="905" y2="349.5" stroke="#e0e3eb" stroke-width="1"/><rect x="6" y="373.8" width="863" height="70.2" fill="#efebfa"/><line x1="6" y1="373.8" x2="869" y2="373.8" stroke="#9a9ca6" stroke-width="1" stroke-dasharray="3 3.6"/><line x1="6" y1="408.9" x2="869" y2="408.9" stroke="#9a9ca6" stroke-width="1" stroke-dasharray="3 3.6"/><line x1="6" y1="443.9" x2="869" y2="443.9" stroke="#9a9ca6" stroke-width="1" stroke-dasharray="3 3.6"/><clipPath id="ob"><rect x="6" y="350" width="863" height="23.8"/></clipPath><clipPath id="os"><rect x="6" y="443.9" width="863" height="22.1"/></clipPath><polygon clip-path="url(#ob)" points="6.1,373.8 6.1,424.2 9.7,426.6 14.6,418.1 18.3,405.4 23.1,412.0 31.7,405.4 36.5,408.3 41.9,419.3 46.3,415.1 51.1,417.6 57.2,410.8 63.8,407.1 68.2,431.5 75.5,436.3 85.2,438.8 92.5,444.9 96.2,449.2 104.7,449.2 109.6,443.6 114.5,447.3 119.3,424.2 124.2,439.5 129.1,435.6 136.4,435.1 142.5,433.2 147.3,424.2 152.2,422.4 159.4,426.0 168.7,409.6 173.9,387.9 178.1,408.5 187.4,400.3 192.1,399.6 198.0,394.9 201.5,396.8 206.1,404.3 220.2,392.6 227.2,389.8 233.7,380.4 238.9,393.3 242.4,398.0 245.9,398.7 251.8,410.8 256.4,402.6 260.4,387.4 265.1,395.6 269.8,387.9 274.0,392.1 278.7,401.5 283.3,414.3 288.5,399.1 292.7,410.4 298.5,409.6 302.0,410.4 305.8,412.7 310.5,400.3 317.5,393.3 324.6,386.3 328.5,394.9 333.9,390.9 340.9,388.6 346.8,386.3 351.9,382.7 360.8,378.5 370.2,411.3 374.9,410.8 388.9,401.9 393.1,405.7 397.8,401.0 402.9,406.1 407.6,407.3 411.1,412.0 417.0,413.2 429.8,444.0 436.8,446.4 442.7,443.1 450.9,454.1 456.3,456.0 460.5,451.8 466.4,443.6 471.1,437.7 474.6,439.4 479.2,433.0 483.9,420.2 488.6,423.0 493.3,408.9 498.7,412.7 506.1,396.8 513.2,401.9 520.2,400.3 529.1,387.0 534.7,417.8 540.1,420.6 543.6,408.5 551.8,399.6 557.6,405.0 561.8,389.3 565.8,395.6 571.6,391.6 578.2,389.3 584.5,399.6 590.4,393.3 597.4,387.9 603.2,384.6 610.5,373.4 616.4,362.9 621.1,371.5 624.6,373.4 630.4,378.1 638.6,371.1 643.3,362.9 648.0,360.5 652.6,361.7 657.3,365.2 662.0,361.7 666.7,372.2 674.9,371.5 680.7,380.4 688.9,390.9 693.6,385.1 698.2,398.0 702.9,398.0 707.6,392.6 715.8,401.5 721.6,395.6 727.5,394.0 731.0,396.3 734.5,391.6 740.4,402.6 745.0,399.6 753.3,380.0 758.3,392.8 762.2,387.9 767.6,387.0 771.6,394.5 776.3,388.6 780.3,378.6 784.5,379.3 789.2,380.4 793.4,379.3 798.5,387.5 803.2,396.4 809.1,399.6 812.6,402.0 817.3,393.3 821.9,396.8 826.2,399.2 830.1,391.7 839.5,408.5 844.2,403.9 847.7,404.3 852.4,398.0 857.1,399.6 862.9,404.9 862.9,373.8" fill="#e6f4e6"/><polygon clip-path="url(#os)" points="6.1,443.9 6.1,424.2 9.7,426.6 14.6,418.1 18.3,405.4 23.1,412.0 31.7,405.4 36.5,408.3 41.9,419.3 46.3,415.1 51.1,417.6 57.2,410.8 63.8,407.1 68.2,431.5 75.5,436.3 85.2,438.8 92.5,444.9 96.2,449.2 104.7,449.2 109.6,443.6 114.5,447.3 119.3,424.2 124.2,439.5 129.1,435.6 136.4,435.1 142.5,433.2 147.3,424.2 152.2,422.4 159.4,426.0 168.7,409.6 173.9,387.9 178.1,408.5 187.4,400.3 192.1,399.6 198.0,394.9 201.5,396.8 206.1,404.3 220.2,392.6 227.2,389.8 233.7,380.4 238.9,393.3 242.4,398.0 245.9,398.7 251.8,410.8 256.4,402.6 260.4,387.4 265.1,395.6 269.8,387.9 274.0,392.1 278.7,401.5 283.3,414.3 288.5,399.1 292.7,410.4 298.5,409.6 302.0,410.4 305.8,412.7 310.5,400.3 317.5,393.3 324.6,386.3 328.5,394.9 333.9,390.9 340.9,388.6 346.8,386.3 351.9,382.7 360.8,378.5 370.2,411.3 374.9,410.8 388.9,401.9 393.1,405.7 397.8,401.0 402.9,406.1 407.6,407.3 411.1,412.0 417.0,413.2 429.8,444.0 436.8,446.4 442.7,443.1 450.9,454.1 456.3,456.0 460.5,451.8 466.4,443.6 471.1,437.7 474.6,439.4 479.2,433.0 483.9,420.2 488.6,423.0 493.3,408.9 498.7,412.7 506.1,396.8 513.2,401.9 520.2,400.3 529.1,387.0 534.7,417.8 540.1,420.6 543.6,408.5 551.8,399.6 557.6,405.0 561.8,389.3 565.8,395.6 571.6,391.6 578.2,389.3 584.5,399.6 590.4,393.3 597.4,387.9 603.2,384.6 610.5,373.4 616.4,362.9 621.1,371.5 624.6,373.4 630.4,378.1 638.6,371.1 643.3,362.9 648.0,360.5 652.6,361.7 657.3,365.2 662.0,361.7 666.7,372.2 674.9,371.5 680.7,380.4 688.9,390.9 693.6,385.1 698.2,398.0 702.9,398.0 707.6,392.6 715.8,401.5 721.6,395.6 727.5,394.0 731.0,396.3 734.5,391.6 740.4,402.6 745.0,399.6 753.3,380.0 758.3,392.8 762.2,387.9 767.6,387.0 771.6,394.5 776.3,388.6 780.3,378.6 784.5,379.3 789.2,380.4 793.4,379.3 798.5,387.5 803.2,396.4 809.1,399.6 812.6,402.0 817.3,393.3 821.9,396.8 826.2,399.2 830.1,391.7 839.5,408.5 844.2,403.9 847.7,404.3 852.4,398.0 857.1,399.6 862.9,404.9 862.9,443.9" fill="#fcebed"/><path d="M6.1,388.8 C8.3,390.4 15.2,395.8 19.5,398.6 C23.8,401.5 27.2,403.1 31.7,405.9 C36.2,408.7 42.2,414.0 46.3,415.6 C50.3,417.2 52.4,415.8 56.0,415.6 C59.6,415.4 64.5,414.2 68.2,414.4 C71.9,414.6 73.9,415.0 77.9,416.8 C82.0,418.6 87.6,422.5 92.5,425.4 C97.4,428.2 102.3,431.7 107.2,433.9 C112.1,436.1 116.9,437.6 121.8,438.8 C126.7,440.0 131.7,441.2 136.4,441.2 C141.1,441.2 145.4,440.3 150.0,438.9 C154.6,437.5 160.1,435.3 164.0,433.0 C167.9,430.7 169.9,427.2 173.4,424.9 C176.9,422.6 181.2,421.1 185.1,419.0 C189.0,416.9 192.9,414.1 196.8,412.0 C200.7,409.9 204.6,407.9 208.5,406.1 C212.4,404.3 216.3,402.6 220.2,401.0 C224.1,399.4 228.0,397.7 231.9,396.8 C235.8,395.9 239.7,395.7 243.6,395.6 C247.5,395.5 251.4,396.3 255.3,396.3 C259.2,396.3 263.9,396.0 267.0,395.6 C270.1,395.2 270.9,393.8 274.0,394.0 C277.1,394.2 281.8,395.6 285.7,396.8 C289.6,398.0 293.4,400.0 297.4,401.0 C301.3,402.0 305.5,402.6 309.4,402.6 C313.3,402.6 315.6,401.5 321.0,401.0 C326.4,400.5 334.7,401.5 342.1,399.8 C349.5,398.1 360.0,392.3 365.5,390.9 C371.0,389.5 369.4,390.7 374.9,391.6 C380.3,392.5 392.0,394.7 398.2,396.3 C404.4,397.9 408.0,399.3 412.3,401.5 C416.6,403.7 419.3,406.3 424.0,409.6 C428.7,412.9 436.1,418.6 440.4,421.3 C444.7,424.0 446.1,423.5 450.0,426.0 C453.9,428.5 458.6,433.6 464.0,436.5 C469.4,439.4 477.2,442.7 482.7,443.1 C488.2,443.5 491.3,441.9 496.8,438.9 C502.3,435.9 510.1,429.4 515.5,424.9 C521.0,420.4 524.0,415.3 529.5,412.0 C535.0,408.7 542.0,406.8 548.2,405.0 C554.5,403.2 560.8,402.0 567.0,401.0 C573.2,400.0 580.6,399.7 585.7,399.1 C590.8,398.5 593.5,398.7 597.4,397.5 C601.3,396.3 605.1,394.2 609.4,392.1 C613.7,390.0 618.5,387.1 623.4,385.1 C628.3,383.2 633.9,382.3 638.6,380.4 C643.3,378.4 647.4,375.3 651.5,373.4 C655.6,371.5 659.7,370.1 663.2,369.2 C666.7,368.3 669.4,368.2 672.5,368.2 C675.6,368.2 677.6,368.3 681.9,369.2 C686.2,370.1 692.4,370.9 698.2,373.4 C704.1,375.8 711.5,381.1 717.0,383.9 C722.5,386.7 727.1,388.5 731.0,390.2 C734.9,391.9 736.9,393.1 740.4,394.0 C743.9,394.9 747.1,395.8 751.7,395.7 C756.3,395.6 763.0,394.2 768.1,393.3 C773.2,392.4 777.0,391.3 782.1,390.3 C787.2,389.3 794.2,388.0 798.5,387.5 C802.8,387.0 804.0,387.2 807.9,387.5 C811.8,387.8 817.6,388.6 821.9,389.3 C826.2,390.0 829.8,390.6 833.7,391.7 C837.6,392.8 841.9,394.6 845.4,395.7 C848.9,396.8 851.8,397.2 854.7,398.0 C857.6,398.8 861.5,399.9 862.9,400.3" fill="none" stroke="#f3df80" stroke-width="1.3"/><polyline points="6.1,424.2 9.7,426.6 14.6,418.1 18.3,405.4 23.1,412.0 31.7,405.4 36.5,408.3 41.9,419.3 46.3,415.1 51.1,417.6 57.2,410.8 63.8,407.1 68.2,431.5 75.5,436.3 85.2,438.8 92.5,444.9 96.2,449.2 104.7,449.2 109.6,443.6 114.5,447.3 119.3,424.2 124.2,439.5 129.1,435.6 136.4,435.1 142.5,433.2 147.3,424.2 152.2,422.4 159.4,426.0 168.7,409.6 173.9,387.9 178.1,408.5 187.4,400.3 192.1,399.6 198.0,394.9 201.5,396.8 206.1,404.3 220.2,392.6 227.2,389.8 233.7,380.4 238.9,393.3 242.4,398.0 245.9,398.7 251.8,410.8 256.4,402.6 260.4,387.4 265.1,395.6 269.8,387.9 274.0,392.1 278.7,401.5 283.3,414.3 288.5,399.1 292.7,410.4 298.5,409.6 302.0,410.4 305.8,412.7 310.5,400.3 317.5,393.3 324.6,386.3 328.5,394.9 333.9,390.9 340.9,388.6 346.8,386.3 351.9,382.7 360.8,378.5 370.2,411.3 374.9,410.8 388.9,401.9 393.1,405.7 397.8,401.0 402.9,406.1 407.6,407.3 411.1,412.0 417.0,413.2 429.8,444.0 436.8,446.4 442.7,443.1 450.9,454.1 456.3,456.0 460.5,451.8 466.4,443.6 471.1,437.7 474.6,439.4 479.2,433.0 483.9,420.2 488.6,423.0 493.3,408.9 498.7,412.7 506.1,396.8 513.2,401.9 520.2,400.3 529.1,387.0 534.7,417.8 540.1,420.6 543.6,408.5 551.8,399.6 557.6,405.0 561.8,389.3 565.8,395.6 571.6,391.6 578.2,389.3 584.5,399.6 590.4,393.3 597.4,387.9 603.2,384.6 610.5,373.4 616.4,362.9 621.1,371.5 624.6,373.4 630.4,378.1 638.6,371.1 643.3,362.9 648.0,360.5 652.6,361.7 657.3,365.2 662.0,361.7 666.7,372.2 674.9,371.5 680.7,380.4 688.9,390.9 693.6,385.1 698.2,398.0 702.9,398.0 707.6,392.6 715.8,401.5 721.6,395.6 727.5,394.0 731.0,396.3 734.5,391.6 740.4,402.6 745.0,399.6 753.3,380.0 758.3,392.8 762.2,387.9 767.6,387.0 771.6,394.5 776.3,388.6 780.3,378.6 784.5,379.3 789.2,380.4 793.4,379.3 798.5,387.5 803.2,396.4 809.1,399.6 812.6,402.0 817.3,393.3 821.9,396.8 826.2,399.2 830.1,391.7 839.5,408.5 844.2,403.9 847.7,404.3 852.4,398.0 857.1,399.6 862.9,404.9" fill="none" stroke="#9383d8" stroke-width="1.25" stroke-linejoin="round"/><line x1="869.2" y1="10" x2="869.2" y2="483" stroke="#a3a6af" stroke-width="1.1"/><line x1="6" y1="466.5" x2="906" y2="466.5" stroke="#9598a1" stroke-width="1"/><text x="874.8" y="36.2" font-size="7.8" fill="#2a2e39" font-weight="normal" textLength="24.6" lengthAdjust="spacingAndGlyphs">1.40200</text><text x="874.8" y="57.5" font-size="7.8" fill="#2a2e39" font-weight="normal" textLength="24.6" lengthAdjust="spacingAndGlyphs">1.40000</text><text x="874.8" y="78.8" font-size="7.8" fill="#2a2e39" font-weight="normal" textLength="24.6" lengthAdjust="spacingAndGlyphs">1.39800</text><text x="874.8" y="100.1" font-size="7.8" fill="#2a2e39" font-weight="normal" textLength="24.6" lengthAdjust="spacingAndGlyphs">1.39600</text><text x="874.8" y="121.4" font-size="7.8" fill="#2a2e39" font-weight="normal" textLength="24.6" lengthAdjust="spacingAndGlyphs">1.39400</text><text x="874.8" y="142.7" font-size="7.8" fill="#2a2e39" font-weight="normal" textLength="24.6" lengthAdjust="spacingAndGlyphs">1.39200</text><text x="874.8" y="164.0" font-size="7.8" fill="#2a2e39" font-weight="normal" textLength="24.6" lengthAdjust="spacingAndGlyphs">1.39000</text><text x="874.8" y="185.3" font-size="7.8" fill="#2a2e39" font-weight="normal" textLength="24.6" lengthAdjust="spacingAndGlyphs">1.38800</text><text x="874.8" y="206.6" font-size="7.8" fill="#2a2e39" font-weight="normal" textLength="24.6" lengthAdjust="spacingAndGlyphs">1.38600</text><text x="874.8" y="227.9" font-size="7.8" fill="#2a2e39" font-weight="normal" textLength="24.6" lengthAdjust="spacingAndGlyphs">1.38400</text><text x="874.8" y="249.2" font-size="7.8" fill="#2a2e39" font-weight="normal" textLength="24.6" lengthAdjust="spacingAndGlyphs">1.38200</text><text x="874.8" y="270.5" font-size="7.8" fill="#2a2e39" font-weight="normal" textLength="24.6" lengthAdjust="spacingAndGlyphs">1.38000</text><text x="874.8" y="291.8" font-size="7.8" fill="#2a2e39" font-weight="normal" textLength="24.6" lengthAdjust="spacingAndGlyphs">1.37800</text><text x="874.8" y="313.1" font-size="7.8" fill="#2a2e39" font-weight="normal" textLength="24.6" lengthAdjust="spacingAndGlyphs">1.37600</text><text x="874.8" y="334.4" font-size="7.8" fill="#2a2e39" font-weight="normal" textLength="24.6" lengthAdjust="spacingAndGlyphs">1.37400</text><text x="874.1" y="359.2" font-size="7.8" fill="#2a2e39" font-weight="normal" textLength="18.0" lengthAdjust="spacingAndGlyphs">80.00</text><text x="874.1" y="394.3" font-size="7.8" fill="#2a2e39" font-weight="normal" textLength="18.0" lengthAdjust="spacingAndGlyphs">60.00</text><text x="874.1" y="429.4" font-size="7.8" fill="#2a2e39" font-weight="normal" textLength="18.0" lengthAdjust="spacingAndGlyphs">40.00</text><text x="874.1" y="464.5" font-size="7.8" fill="#2a2e39" font-weight="normal" textLength="18.0" lengthAdjust="spacingAndGlyphs">20.00</text><text x="32.5" y="477.3" font-size="6.6" fill="#2a2e39" text-anchor="middle">26</text><text x="87" y="477.3" font-size="6.6" fill="#2a2e39" text-anchor="middle">28</text><text x="141" y="477.3" font-size="6.6" fill="#2a2e39" text-anchor="middle">Sep</text><text x="197" y="477.3" font-size="6.6" fill="#2a2e39" text-anchor="middle">3</text><text x="251" y="477.3" font-size="6.6" fill="#2a2e39" text-anchor="middle">5</text><text x="306" y="477.3" font-size="6.6" fill="#2a2e39" text-anchor="middle">9</text><text x="361" y="477.3" font-size="6.6" fill="#2a2e39" text-anchor="middle">11</text><text x="407" y="477.3" font-size="6.6" fill="#2a2e39" text-anchor="middle">14</text><text x="442" y="477.3" font-size="6.6" fill="#2a2e39" text-anchor="middle">16</text><text x="498.5" y="477.3" font-size="6.6" fill="#2a2e39" text-anchor="middle">18</text><text x="543.5" y="477.3" font-size="6.6" fill="#2a2e39" text-anchor="middle">21</text><text x="580" y="477.3" font-size="6.6" fill="#2a2e39" text-anchor="middle">23</text><text x="634.5" y="477.3" font-size="6.6" fill="#2a2e39" text-anchor="middle">25</text><text x="680" y="477.3" font-size="6.6" fill="#2a2e39" text-anchor="middle">28</text><text x="744" y="477.3" font-size="6.6" fill="#2a2e39" text-anchor="middle">Oct</text><text x="799" y="477.3" font-size="6.6" fill="#2a2e39" text-anchor="middle">3</text><text x="854" y="477.3" font-size="6.6" fill="#2a2e39" text-anchor="middle">7</text><rect x="871.5" y="12" width="32" height="15" rx="2" fill="#ffffff" stroke="#eceef2" stroke-width="1"/><text x="877.0" y="23.2" font-size="8" fill="#2a2e39" stroke="#2a2e39" stroke-width="0.25" textLength="12.6" lengthAdjust="spacingAndGlyphs">CAD</text><rect x="869.5" y="34.1" width="33.5" height="10" fill="#f0616a"/><text x="874.8" y="42.1" font-size="7.8" fill="#ffffff" font-weight="normal" stroke="#ffffff" stroke-width="0.3" textLength="24.6" lengthAdjust="spacingAndGlyphs">1.40145</text><rect x="869.5" y="49.1" width="33.5" height="10" fill="#f0616a"/><text x="874.8" y="57.1" font-size="7.8" fill="#ffffff" font-weight="normal" stroke="#ffffff" stroke-width="0.3" textLength="24.6" lengthAdjust="spacingAndGlyphs">1.40004</text><rect x="869.5" y="104" width="33.5" height="19" fill="#ee4b54"/><text x="874.8" y="111.9" font-size="7.8" fill="#ffffff" font-weight="normal" stroke="#ffffff" stroke-width="0.3" textLength="24.6" lengthAdjust="spacingAndGlyphs">1.39487</text><text x="874.3" y="120.3" font-size="7.8" fill="#ffffff" font-weight="normal" stroke="#ffffff" stroke-width="0.3" textLength="17.5" lengthAdjust="spacingAndGlyphs">55:50</text><rect x="869.5" y="129.3" width="33.5" height="10" fill="#7fc98a"/><text x="874.8" y="137.3" font-size="7.8" fill="#131722" font-weight="normal" stroke="#131722" stroke-width="0.3" textLength="24.6" lengthAdjust="spacingAndGlyphs">1.39251</text><rect x="869.5" y="144.8" width="33.5" height="10" fill="#7fc98a"/><text x="874.8" y="152.8" font-size="7.8" fill="#131722" font-weight="normal" stroke="#131722" stroke-width="0.3" textLength="24.6" lengthAdjust="spacingAndGlyphs">1.39105</text><rect x="869.5" y="199.6" width="33.5" height="10" fill="#7fc98a"/><text x="874.8" y="207.6" font-size="7.8" fill="#131722" font-weight="normal" stroke="#131722" stroke-width="0.3" textLength="24.6" lengthAdjust="spacingAndGlyphs">1.38591</text><rect x="869.5" y="213.9" width="33.5" height="10" fill="#7fc98a"/><text x="874.8" y="221.9" font-size="7.8" fill="#131722" font-weight="normal" stroke="#131722" stroke-width="0.3" textLength="24.6" lengthAdjust="spacingAndGlyphs">1.38456</text><text x="5.9" y="5.0" font-size="7.7" fill="#131722" stroke="#131722" stroke-width="0.3" textLength="211" lengthAdjust="spacingAndGlyphs">gmzern created with TradingView.com, Oct 07, 2025 12:04 UTC-4</text><text x="10.7" y="21.5" font-size="7.4" fill="#4f525d" font-weight="normal" textLength="133.0" lengthAdjust="spacingAndGlyphs">U.S. Dollar / Canadian Dollar · 4h · FXCM</text><text x="147.6" y="21.5" font-size="7.4" fill="#4f525d" font-weight="normal" textLength="5.3" lengthAdjust="spacingAndGlyphs">O</text><text x="152.9" y="21.5" font-size="7.4" fill="#f23645" font-weight="normal" textLength="25.0" lengthAdjust="spacingAndGlyphs">1.39536</text><text x="182.9" y="21.5" font-size="7.4" fill="#4f525d" font-weight="normal" textLength="4.2" lengthAdjust="spacingAndGlyphs">H</text><text x="187.1" y="21.5" font-size="7.4" fill="#f23645" font-weight="normal" textLength="24.3" lengthAdjust="spacingAndGlyphs">1.39563</text><text x="216.7" y="21.5" font-size="7.4" fill="#4f525d" font-weight="normal" textLength="4.0" lengthAdjust="spacingAndGlyphs">L</text><text x="220.7" y="21.5" font-size="7.4" fill="#f23645" font-weight="normal" textLength="24.4" lengthAdjust="spacingAndGlyphs">1.39387</text><text x="250.4" y="21.5" font-size="7.4" fill="#4f525d" font-weight="normal" textLength="3.9" lengthAdjust="spacingAndGlyphs">C</text><text x="254.3" y="21.5" font-size="7.4" fill="#f23645" font-weight="normal" textLength="25.7" lengthAdjust="spacingAndGlyphs">1.39487</text><text x="283.9" y="21.5" font-size="7.4" fill="#f23645" font-weight="normal" textLength="29.0" lengthAdjust="spacingAndGlyphs">−0.00049</text><text x="315.5" y="21.5" font-size="7.4" fill="#f23645" font-weight="normal" textLength="27.0" lengthAdjust="spacingAndGlyphs">(−0.04%)</text><text x="10.7" y="31.5" font-size="7.4" fill="#4f525d" font-weight="normal" textLength="48.7" lengthAdjust="spacingAndGlyphs">SMA (50, close)</text><text x="64.6" y="31.5" font-size="7.4" fill="#2962ff" font-weight="normal" textLength="24.9" lengthAdjust="spacingAndGlyphs">1.39384</text><text x="10.3" y="360.6" font-size="7.4" fill="#4f525d" font-weight="normal" textLength="84.2" lengthAdjust="spacingAndGlyphs">RSI (14, close, SMA, 14, 2)</text><text x="99.7" y="360.6" font-size="7.4" fill="#7e57c2" font-weight="normal" textLength="17.1" lengthAdjust="spacingAndGlyphs">51.91</text><text x="121.7" y="360.6" font-size="7.4" fill="#f0d85a" font-weight="normal" textLength="17.5" lengthAdjust="spacingAndGlyphs">54.78</text><text x="144.5" y="360.6" font-size="7.4" fill="#4f525d" font-weight="normal" textLength="4.4" lengthAdjust="spacingAndGlyphs">Ø</text><text x="153.2" y="360.6" font-size="7.4" fill="#4f525d" font-weight="normal" textLength="4.4" lengthAdjust="spacingAndGlyphs">Ø</text>
<g fill="#131722"><path d="M7,496 H14.7 V504.8 H10.3 V500.1 H7 Z"/><circle cx="17.4" cy="498.2" r="1.7"/><path d="M20.4,496 H24.9 L22.1,504.8 H17.6 Z"/></g>
<text x="29.2" y="504.8" font-size="11.8" font-weight="bold" fill="#131722" textLength="72.6" lengthAdjust="spacingAndGlyphs">TradingView</text>
</svg></body></html>
